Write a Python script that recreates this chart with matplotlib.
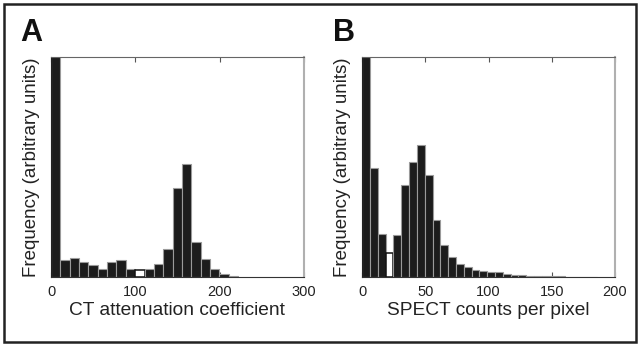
import numpy as np
import matplotlib
matplotlib.use("Agg")
import matplotlib.pyplot as plt
from matplotlib.patches import Rectangle

plt.rcParams['font.family'] = ['Liberation Sans', 'DejaVu Sans']

# Panel A: CT attenuation coefficient histogram (relative frequency, first bin clipped)
ct_bin_width = 11.1
ct_freq = [1.30, 0.076, 0.086, 0.070, 0.053, 0.036, 0.067, 0.076, 0.036, 0.032,
           0.036, 0.061, 0.129, 0.403, 0.515, 0.158, 0.082, 0.036, 0.012, 0.006]
ct_highlight = 9  # open (white) bar index
ct_ticks = [0, 100, 200, 300]

# Panel B: SPECT counts per pixel histogram
sp_bin_width = 6.18
sp_freq = [1.30, 0.495, 0.195, 0.109, 0.191, 0.418, 0.524, 0.598, 0.464, 0.258,
           0.147, 0.091, 0.059, 0.044, 0.033, 0.029, 0.024, 0.023, 0.012, 0.009,
           0.009, 0.006, 0.005, 0.005, 0.003, 0.003, 0.002, 0.002, 0.002, 0.002]
sp_highlight = 3
sp_ticks = [0, 50, 100, 150, 200]

fig = plt.figure(figsize=(6.4, 3.45), dpi=100)
fig.patch.set_facecolor('white')
fig.patches.append(Rectangle((0.006, 0.009), 0.988, 0.979, transform=fig.transFigure,
                             fill=False, edgecolor='#222222', linewidth=1.8, zorder=0))

def panel(rect, freq, bw, hl, ticks, xmax, xlabel, letter, letter_x):
    ax = fig.add_axes(rect)
    n = len(freq)
    left = np.arange(n) * bw
    colors = ['white' if i == hl else '#1c1c1c' for i in range(n)]
    edges = ['#111111' if i == hl else '#9a9a9a' for i in range(n)]
    lws = [1.1 if i == hl else 0.8 for i in range(n)]
    ax.bar(left, freq, width=bw, align='edge', color=colors, edgecolor=edges,
           linewidth=lws, zorder=2)
    ax.set_xlim(0, xmax)
    ax.set_ylim(0, 1)
    ax.set_yticks([])
    ax.set_xticks(ticks)
    ax.tick_params(axis='x', direction='in', top=True, length=3.5, width=0.8,
                   colors='#555555', labelcolor='#222222', labelsize=10.5, pad=6)
    ax.spines['left'].set_color('#222222')
    ax.spines['bottom'].set_color('#333333')
    ax.spines['top'].set_color('#666666')
    ax.spines['right'].set_color('#b0b0b0')
    ax.spines['right'].set_linewidth(1.5)
    ax.set_xlabel(xlabel, fontsize=13.8, color='#222222', labelpad=2)
    ax.set_ylabel('Frequency (arbitrary units)', fontsize=13.5, color='#222222', labelpad=8)
    fig.text(letter_x, 0.905, letter, fontsize=22, fontweight='bold', color='#111111',
             ha='left', va='center')
    return ax

panel([0.0797, 0.197, 0.395, 0.638], ct_freq, ct_bin_width, ct_highlight, ct_ticks, 300,
      'CT attenuation coefficient', 'A', 0.031)
panel([0.566, 0.197, 0.395, 0.638], sp_freq, sp_bin_width, sp_highlight, sp_ticks, 200,
      'SPECT counts per pixel', 'B', 0.520)

fig.savefig('out.png', dpi=100, facecolor='white')
